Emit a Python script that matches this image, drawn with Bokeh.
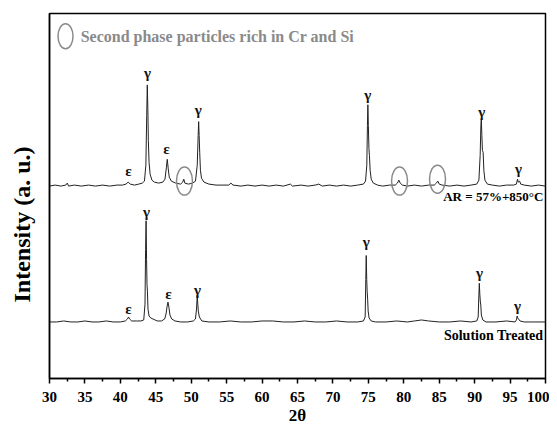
from bokeh.plotting import figure
from bokeh.models import ColumnDataSource, Label, FixedTicker, Range1d, Title
from bokeh.core.properties import value
from bokeh.embed import file_html
from bokeh.resources import INLINE

# ---------------- data (2theta in degrees, intensity in arbitrary units) ----------------
# Upper pattern: AR = 57% + 850 C
aged_2theta = [30.0, 30.8, 31.6, 32.3, 32.5, 32.7, 33.5, 34.5, 35.5, 36.5, 37.5, 38.5, 39.5,
               40.3, 40.8, 41.1, 41.4, 42.0, 42.6, 43.1, 43.4, 43.6, 43.72, 43.8, 43.88, 43.95,
               44.05, 44.2, 44.45, 44.8, 45.4, 46.0, 46.3, 46.5, 46.62, 46.75, 46.9, 47.2, 47.8,
               48.5, 48.8, 48.95, 49.1, 49.6, 50.2, 50.6, 50.85, 50.98, 51.05, 51.12, 51.2, 51.3,
               51.45, 51.8, 52.5, 53.5, 54.5, 55.3, 55.6, 55.9, 57.0, 58.0, 59.0, 60.0, 61.0,
               62.0, 63.0, 64.0, 64.3, 65.5, 66.5, 67.5, 68.0, 68.5, 69.5, 70.5, 71.5, 72.5,
               73.5, 74.3, 74.6, 74.78, 74.87, 74.93, 75.0, 75.08, 75.15, 75.25, 75.4, 75.7,
               76.3, 77.0, 78.0, 78.8, 79.1, 79.3, 79.5, 79.8, 80.5, 81.5, 82.5, 83.5, 84.3,
               84.6, 84.8, 85.0, 85.4, 86.5, 87.5, 88.5, 89.5, 90.3, 90.6, 90.78, 90.88, 90.94,
               91.02, 91.1, 91.2, 91.3, 91.45, 91.8, 92.5, 93.5, 94.5, 95.5, 95.9, 96.05, 96.15,
               96.35, 96.5, 97.0, 98.0, 99.0, 100.0]
aged_int = [194, 195, 194, 195, 197, 194, 195, 194, 195, 194, 195, 194, 195,
            195, 196, 198, 196, 195, 196, 197, 199, 215, 265, 296, 272, 240,
            218, 206, 200, 198, 197, 198, 201, 213, 221, 212, 203, 199, 197,
            196, 198, 201, 197, 196, 197, 199, 215, 245, 259, 245, 228, 210,
            202, 198, 196, 195, 195, 195, 197, 195, 194, 195, 194, 195, 194,
            195, 194, 196, 194, 195, 194, 195, 196, 194, 195, 194, 195, 194,
            195, 196, 199, 215, 255, 276, 255, 232, 225, 210, 201, 197,
            195, 194, 195, 195, 197, 200, 197, 195, 194, 195, 194, 195, 195,
            197, 199, 196, 195, 194, 195, 194, 195, 196, 200, 225, 255, 262,
            245, 230, 228, 210, 200, 196, 195, 194, 195, 195, 196, 201, 198,
            199, 196, 195, 194, 195, 194]

# Lower pattern: Solution Treated
st_2theta = [30.0, 31.0, 32.0, 33.0, 34.0, 35.0, 36.0, 37.0, 38.0, 39.0, 40.0, 40.7, 41.0,
             41.15, 41.3, 41.6, 42.3, 42.9, 43.3, 43.48, 43.56, 43.63, 43.7, 43.76, 43.82,
             43.9, 44.05, 44.3, 44.6, 45.2, 45.8, 46.25, 46.45, 46.6, 46.72, 46.85, 47.0,
             47.25, 47.7, 48.5, 49.5, 50.3, 50.6, 50.75, 50.85, 50.93, 51.0, 51.15, 51.5,
             52.5, 54.0, 55.5, 57.0, 58.5, 60.0, 61.5, 63.0, 64.5, 66.0, 67.5, 69.0, 70.5,
             72.0, 73.5, 74.3, 74.55, 74.64, 74.7, 74.77, 74.83, 74.9, 74.97, 75.1, 75.4,
             76.0, 77.5, 79.0, 80.5, 81.5, 82.5, 83.5, 85.0, 86.5, 88.0, 89.5, 90.3, 90.5,
             90.6, 90.66, 90.73, 90.8, 90.87, 90.95, 91.15, 91.6, 93.0, 94.5, 95.7, 95.9,
             96.0, 96.08, 96.2, 96.4, 97.0, 98.5, 100.0]
st_int = [57, 57, 58, 57, 57, 58, 57, 57, 58, 57, 57, 58, 60,
          62, 60, 58, 58, 58, 59, 75, 130, 159, 120, 95, 88,
          70, 63, 61, 60, 58, 58, 60, 65, 73, 77, 72, 64,
          60, 58, 57, 57, 58, 60, 70, 84, 75, 68, 62, 58,
          57, 57, 58, 57, 57, 58, 58, 57, 57, 58, 57, 57, 58,
          57, 57, 58, 62, 100, 124, 100, 88, 80, 68, 61, 58,
          57, 57, 58, 57, 58, 59, 58, 57, 57, 58, 57, 58, 62,
          85, 96, 85, 78, 74, 64, 59, 57, 57, 58, 57, 59,
          63, 61, 60, 58, 57, 57, 57]

# Phase labels (text, 2theta, intensity where the label sits)
aged_phase = ["ε", "γ", "ε", "γ", "γ", "γ", "γ"]
aged_phase_x = [41.15, 43.83, 46.5, 51.0, 74.9, 91.0, 96.2]
aged_phase_y = [209, 308, 231, 271, 286, 269, 211]
st_phase = ["ε", "γ", "ε", "γ", "γ", "γ", "γ"]
st_phase_x = [41.15, 43.7, 46.8, 50.9, 74.7, 90.7, 96.05]
st_phase_y = [70, 168, 85, 89, 138, 106, 73]

# Circled second-phase particle peaks (2theta, intensity)
circle_x = [49.05, 79.4, 84.76]
circle_y = [199, 199, 201]

x_ticks = [30, 35, 40, 45, 50, 55, 60, 65, 70, 75, 80, 85, 90, 95, 100]

SERIF = "Liberation Serif"

p = figure(width=549, height=427, output_backend="svg", toolbar_location=None,
           x_range=Range1d(30, 100), y_range=Range1d(0, 368),
           min_border_left=49, min_border_right=4, min_border_top=13, min_border_bottom=46)
p.background_fill_color = "white"
p.border_fill_color = "white"
p.grid.visible = False
p.outline_line_color = "black"
p.outline_line_width = 1.5

# x axis
xa = p.xaxis[0]
xa.ticker = FixedTicker(ticks=x_ticks, minor_ticks=[t + 2.5 for t in x_ticks[:-1]])
xa.major_label_text_font = SERIF
xa.major_label_text_font_style = "bold"
xa.major_label_text_font_size = "15px"
xa.major_label_text_color = "black"
xa.major_label_standoff = 8
xa.major_tick_in = 0
xa.major_tick_out = 5
xa.minor_tick_in = 0
xa.minor_tick_out = 3
xa.axis_line_width = 1.5
xa.major_tick_line_width = 1.5
xa.minor_tick_line_width = 1.5
xa.axis_label = "2θ"
xa.axis_label_text_font = SERIF
xa.axis_label_text_font_style = "bold"
xa.axis_label_text_font_size = "17px"
xa.axis_label_text_color = "black"
xa.axis_label_standoff = 1

# y axis: no visible ticks / labels; one invisible tick reserves space before the title
ya = p.yaxis[0]
ya.ticker = FixedTicker(ticks=[0])
ya.major_label_overrides = {0: ""}
ya.major_label_standoff = 0
ya.major_tick_in = 0
ya.major_tick_out = 13
ya.major_tick_line_color = None
ya.minor_tick_in = 0
ya.minor_tick_out = 0
ya.axis_line_width = 1.5

ytitle = Title(text="Intensity (a. u.)", align="left", offset=76, standoff=4,
               vertical_align="bottom",
               text_font=SERIF, text_font_style="bold", text_font_size="24px", text_color="black")
p.add_layout(ytitle, "left")

# traces
p.line(aged_2theta, aged_int, line_color="#222222", line_width=1)
p.line(st_2theta, st_int, line_color="#222222", line_width=1)

# phase labels
for txt, xs, ys in ((aged_phase, aged_phase_x, aged_phase_y), (st_phase, st_phase_x, st_phase_y)):
    src = ColumnDataSource(dict(x=xs, y=ys, t=txt))
    p.text(x="x", y="y", text="t", source=src, text_font=value(SERIF), text_font_style="bold",
           text_font_size="15px", text_align="center", text_baseline="middle", text_color="#111111")

# circles marking second-phase peaks
p.ellipse(x=circle_x, y=circle_y, width=16, height=28, width_units="screen", height_units="screen",
          fill_color=None, line_color="#8a8a8a", line_width=1.5)

# legend-like annotation
p.ellipse(x=[32.26], y=[345], width=15, height=25, width_units="screen", height_units="screen",
          fill_color=None, line_color="#8a8a8a", line_width=1.5)
p.add_layout(Label(x=34.4, y=345, text="Second phase particles rich in Cr and Si",
                   text_font=SERIF, text_font_style="bold", text_font_size="16px",
                   text_color="#8a8a8a", text_align="left", text_baseline="middle"))

# sample labels
p.add_layout(Label(x=99.7, y=184, text="AR = 57%+850°C", text_font=SERIF, text_font_style="bold",
                   text_font_size="13px", text_color="black", text_align="right", text_baseline="middle"))
p.add_layout(Label(x=99.7, y=43, text="Solution Treated", text_font=SERIF, text_font_style="bold",
                   text_font_size="14px", text_color="black", text_align="right", text_baseline="middle"))

open("out.html", "w").write(file_html(p, INLINE))
